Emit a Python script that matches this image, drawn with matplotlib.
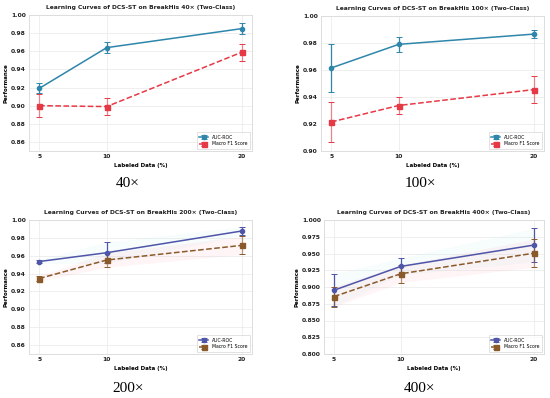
import matplotlib
matplotlib.use("Agg")
import matplotlib.pyplot as plt

W, H = 550, 398

x_labeled = [5, 10, 20]

auc_40 = [0.919, 0.964, 0.985]
auc_40_err = [0.0055, 0.006, 0.006]
f1_40 = [0.900, 0.899, 0.959]
f1_40_err = [0.0125, 0.0095, 0.0095]

auc_100 = [0.9615, 0.979, 0.9866]
auc_100_err = [0.018, 0.0053, 0.003]
f1_100 = [0.9215, 0.9337, 0.9455]
f1_100_err = [0.0145, 0.006, 0.0103]

auc_200 = [0.9535, 0.9634, 0.9877]
auc_200_err = [0.002, 0.012, 0.0048]
f1_200 = [0.9345, 0.9552, 0.9716]
f1_200_err = [0.003, 0.008, 0.010]

auc_400 = [0.8952, 0.9307, 0.9626]
auc_400_err = [0.024, 0.0125, 0.025]
f1_400 = [0.8857, 0.9197, 0.9505]
f1_400_err = [0.015, 0.013, 0.021]

titles = ["Learning Curves of DCS-ST on BreakHis 40\u00d7 (Two-Class)",
          "Learning Curves of DCS-ST on BreakHis 100\u00d7 (Two-Class)",
          "Learning Curves of DCS-ST on BreakHis 200\u00d7 (Two-Class)",
          "Learning Curves of DCS-ST on BreakHis 400\u00d7 (Two-Class)"]
captions = ["40\u00d7", "100\u00d7", "200\u00d7", "400\u00d7"]

fig = plt.figure(figsize=(W / 100, H / 100), dpi=100)
fig.patch.set_facecolor("white")


def add_ax(l, r, t, b):
    return fig.add_axes([l / W, 1 - b / H, (r - l) / W, (b - t) / H])


panels = [
    dict(box=(29, 252, 15, 151), auc=auc_40, auce=auc_40_err, f1=f1_40, f1e=f1_40_err,
         c1="#2E86AB", c2="#E63946", ylim=(0.85, 1.0), yt=[0.86, 0.88, 0.90, 0.92, 0.94, 0.96, 0.98, 1.00],
         fmt="%.2f", band=False),
    dict(box=(321, 544, 16, 151), auc=auc_100, auce=auc_100_err, f1=f1_100, f1e=f1_100_err,
         c1="#2E86AB", c2="#E63946", ylim=(0.90, 1.0), yt=[0.90, 0.92, 0.94, 0.96, 0.98, 1.00],
         fmt="%.2f", band=False),
    dict(box=(29, 252, 220, 354), auc=auc_200, auce=auc_200_err, f1=f1_200, f1e=f1_200_err,
         c1="#4F55A8", c2="#8B5A2B", ylim=(0.85, 1.0), yt=[0.86, 0.88, 0.90, 0.92, 0.94, 0.96, 0.98, 1.00],
         fmt="%.2f", band=True),
    dict(box=(324, 544, 220, 354), auc=auc_400, auce=auc_400_err, f1=f1_400, f1e=f1_400_err,
         c1="#4F55A8", c2="#8B5A2B", ylim=(0.80, 1.0), yt=[0.800, 0.825, 0.850, 0.875, 0.900, 0.925, 0.950, 0.975, 1.000],
         fmt="%.3f", band=True),
]

cap_pos = [(128, 183), (420, 183), (128, 388), (420, 388)]

for i, p in enumerate(panels):
    ax = add_ax(*p["box"])
    ax.set_facecolor("white")
    if p["band"]:
        lo1 = [a - e for a, e in zip(p["auc"], p["auce"])]
        hi1 = [a + e for a, e in zip(p["auc"], p["auce"])]
        lo2 = [a - e for a, e in zip(p["f1"], p["f1e"])]
        hi2 = [a + e for a, e in zip(p["f1"], p["f1e"])]
        ax.fill_between(x_labeled, lo1, hi1, color="#bfe8f2", alpha=0.12, lw=0, zorder=1)
        ax.fill_between(x_labeled, lo2, hi2, color="#ffb0bb", alpha=0.12, lw=0, zorder=1)
    ax.errorbar(x_labeled, p["auc"], yerr=p["auce"], color=p["c1"], marker="o", ms=3,
                lw=1.1, elinewidth=0.9, capsize=2, capthick=0.7, ecolor=p["c1"],
                label="AUC-ROC", zorder=3)
    eb = ax.errorbar(x_labeled, p["f1"], yerr=p["f1e"], color=p["c2"], marker="s", ms=3.6,
                     lw=1.1, ls="--", elinewidth=0.9, capsize=2, capthick=0.7, ecolor=p["c2"],
                     label="Macro F1 Score", zorder=3)
    for b in eb[2]:
        b.set_alpha(0.6)
    ax.set_ylim(*p["ylim"])
    ax.set_xlim(4.25, 20.75)
    ax.set_xticks(x_labeled)
    ax.set_xticklabels([str(v) for v in x_labeled])
    ax.set_yticks(p["yt"])
    ax.set_yticklabels([p["fmt"] % v for v in p["yt"]])
    ax.tick_params(labelsize=4.3, length=0, pad=2.2, colors="#222222")
    for lab in ax.get_xticklabels() + ax.get_yticklabels():
        lab.set_fontweight("bold")
    ax.grid(True, color="#e6e6e6", lw=0.5, ls="-", alpha=0.9)
    ax.set_axisbelow(True)
    for s in ax.spines.values():
        s.set_color("#dddddd")
        s.set_linewidth(0.7)
    ax.set_title(titles[i], fontsize=4.3, fontweight="bold", pad=4, color="#222222")
    ax.set_xlabel("Labeled Data (%)", fontsize=4.0, fontweight="bold", labelpad=3)
    ax.set_ylabel("Performance", fontsize=4.0, fontweight="bold", labelpad=1.5)
    leg = ax.legend(loc="lower right", fontsize=3.3, frameon=True, fancybox=False,
                    borderpad=0.5, handlelength=2.0, labelspacing=0.4)
    leg.get_frame().set_edgecolor("#cccccc")
    leg.get_frame().set_linewidth(0.5)

    cx, cy = cap_pos[i]
    fig.text(cx / W, 1 - cy / H, captions[i], ha="center", va="center",
             fontsize=11, family="Liberation Serif")

fig.savefig("out.png", dpi=100, facecolor="white")
